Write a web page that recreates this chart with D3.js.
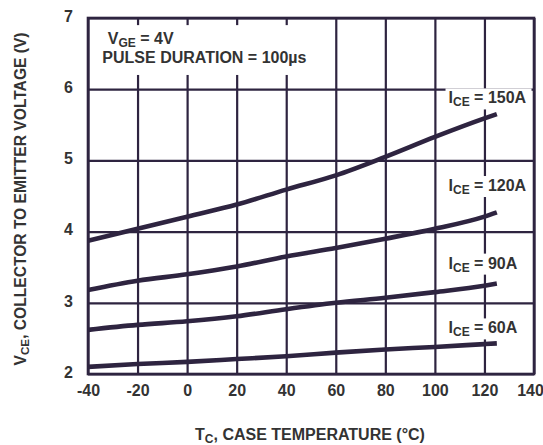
<!DOCTYPE html>
<html>
<head>
<meta charset="utf-8">
<script src="https://cdn.jsdelivr.net/npm/d3@7/dist/d3.min.js"></script>
<style>
  html, body { margin: 0; padding: 0; background: #fff; }
  text { font-family: "Liberation Sans", Arial, sans-serif; font-weight: bold; fill: #333; }
</style>
</head>
<body>
<svg id="chart" width="543" height="445"></svg>
<script>
// ---- data ----
const temps = [-40, -20, 0, 20, 40, 60, 80, 100, 120, 125];
const ice150 = [3.87, 4.04, 4.21, 4.38, 4.59, 4.79, 5.05, 5.33, 5.59, 5.65];
const ice120 = [3.18, 3.31, 3.40, 3.51, 3.65, 3.77, 3.90, 4.04, 4.21, 4.27];
const ice90  = [2.62, 2.69, 2.74, 2.81, 2.91, 3.00, 3.07, 3.15, 3.24, 3.27];
const ice60  = [2.10, 2.14, 2.17, 2.21, 2.25, 2.30, 2.345, 2.38, 2.42, 2.43];
const seriesNames = ["150A", "120A", "90A", "60A"];
const xTicks = [-40, -20, 0, 20, 40, 60, 80, 100, 120, 140];
const yTicks = [2, 3, 4, 5, 6, 7];

// ---- layout ----
const margin = { left: 88, top: 18, right: 9, bottom: 71 };
const W = 543, H = 445;
const iw = W - margin.left - margin.right;
const ih = H - margin.top - margin.bottom;
const ink = "#2e2440";
const FS = 16;

const svg = d3.select("#chart");
const g = svg.append("g").attr("transform", `translate(${margin.left},${margin.top})`);

const x = d3.scaleLinear().domain([-40, 140]).range([0, iw]);
const y = d3.scaleLinear().domain([2, 7]).range([ih, 0]);

const fmt = d => String(d);

// grid via axes
const gx = g.append("g").attr("transform", `translate(0,${ih})`)
  .call(d3.axisBottom(x).tickValues(xTicks).tickSize(-ih).tickPadding(11).tickFormat(fmt));
const gy = g.append("g")
  .call(d3.axisLeft(y).tickValues(yTicks).tickSize(-iw).tickPadding(15).tickFormat(fmt));
[gx, gy].forEach(a => {
  a.select(".domain").remove();
  a.selectAll(".tick line").attr("stroke", ink).attr("stroke-width", 2.2);
  a.selectAll(".tick text").attr("font-size", FS).attr("font-family", "Liberation Sans, Arial, sans-serif")
    .attr("font-weight", "bold").attr("fill", "#333");
});
gy.selectAll(".tick text").attr("dy", "0.2em");
gx.selectAll(".tick text").filter(d => d === 140).attr("dx", -4);

// frame
g.append("rect").attr("x", 0).attr("y", 0).attr("width", iw).attr("height", ih)
  .attr("fill", "none").attr("stroke", ink).attr("stroke-width", 2.6);

// top-left note background
g.append("rect").attr("x", x(-35)).attr("y", y(6.9))
  .attr("width", x(48) - x(-35)).attr("height", y(6.2) - y(6.9)).attr("fill", "#fff");

// series labels positions (value coords)
const labelPos = [
  { t: 105.5, v: 5.8 },
  { t: 105.5, v: 4.57 },
  { t: 105.5, v: 3.48 },
  { t: 105.5, v: 2.57 }
];

const series = [ice150, ice120, ice90, ice60];
const line = d3.line().x((d, i) => x(temps[i])).y(d => y(d)).curve(d3.curveMonotoneX);

labelPos.forEach(p => {
  g.append("rect").attr("x", x(p.t) - 3).attr("y", y(p.v) - 15)
    .attr("width", 86).attr("height", 21).attr("fill", "#fff");
});

series.forEach(s => {
  g.append("path").datum(s).attr("d", line)
    .attr("fill", "none").attr("stroke", ink).attr("stroke-width", 4.6)
    .attr("stroke-linecap", "butt");
});

function subLabel(parent, px, py, main, sub, rest, size) {
  const t = parent.append("text").attr("x", px).attr("y", py).attr("font-size", size);
  t.append("tspan").text(main);
  t.append("tspan").attr("font-size", size * 0.75).attr("dy", 3).text(sub);
  t.append("tspan").attr("dy", -3).text(rest);
  return t;
}

seriesNames.forEach((n, i) => {
  const p = labelPos[i];
  subLabel(g, x(p.t), y(p.v), "I", "CE", " = " + n, FS);
});

// V_GE / pulse text
subLabel(g, x(-32), y(6.63), "V", "GE", " = 4V", FS);
g.append("text").attr("x", x(-34.2)).attr("y", y(6.37)).attr("font-size", FS).text("PULSE DURATION = 100µs");

// axis titles
const xt = svg.append("text").attr("x", margin.left + iw / 2 - 1).attr("y", 440)
  .attr("text-anchor", "middle").attr("font-size", FS);
xt.append("tspan").text("T");
xt.append("tspan").attr("font-size", 12).attr("dy", 3).text("C");
xt.append("tspan").attr("dy", -3).text(", CASE TEMPERATURE (°C)");

const yt = svg.append("text").attr("transform", `translate(26,${199}) rotate(-90)`)
  .attr("text-anchor", "middle").attr("font-size", 15.6);
yt.append("tspan").text("V");
yt.append("tspan").attr("font-size", 11.7).attr("dy", 3).text("CE");
yt.append("tspan").attr("dy", -3).text(", COLLECTOR TO EMITTER VOLTAGE (V)");
</script>
</body>
</html>
